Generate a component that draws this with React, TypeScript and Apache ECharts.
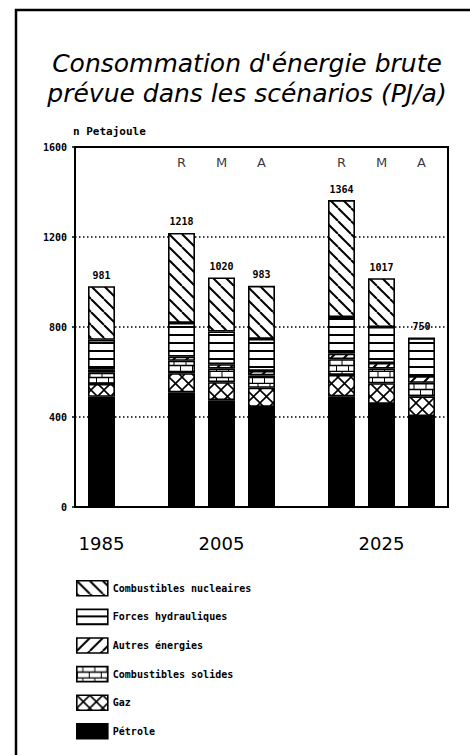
import React, { useEffect, useRef } from "react";
import * as echarts from "echarts";

// ---- data ----
const slots = ["1985", "gap1", "2005 R", "2005 M", "2005 A", "gap2", "2025 R", "2025 M", "2025 A"];
const positions = [0, 2, 3, 4, 6, 7, 8];
const scenarioLabels = ["", "R", "M", "A", "R", "M", "A"];
const yearPositions = [0, 3, 7];
const years = ["1985", "2005", "2025"];
const petrole = [490, 510, 475, 445, 492, 458, 404];
const gaz = [57, 85, 80, 85, 95, 92, 88];
const solides = [50, 55, 60, 55, 70, 65, 60];
const autres = [15, 18, 20, 20, 25, 25, 30];
const hydro = [131, 150, 145, 142, 162, 160, 168];
const nucleaire = [238, 400, 240, 236, 520, 217, 0];
const totals = [981, 1218, 1020, 983, 1364, 1017, 750];
const yTicks = [0, 400, 800, 1200, 1600];
const seriesNames = [
  "Pétrole",
  "Gaz",
  "Combustibles solides",
  "Autres énergies",
  "Forces hydrauliques",
  "Combustibles nucleaires",
];
const legendOrder = [
  "Combustibles nucleaires",
  "Forces hydrauliques",
  "Autres énergies",
  "Combustibles solides",
  "Gaz",
  "Pétrole",
];

function makePattern(w: number, h: number, draw: (ctx: CanvasRenderingContext2D) => void) {
  const c = document.createElement("canvas");
  c.width = w;
  c.height = h;
  const ctx = c.getContext("2d")!;
  ctx.fillStyle = "#fff";
  ctx.fillRect(0, 0, w, h);
  ctx.strokeStyle = "#000";
  draw(ctx);
  return { image: c, repeat: "repeat", imageWidth: w, imageHeight: h } as any;
}

function toSlots(vals: number[]) {
  const out: any[] = slots.map(() => "-");
  positions.forEach((p, i) => (out[p] = vals[i]));
  return out;
}

export default function App() {
  const ref = useRef<HTMLDivElement>(null);
  useEffect(() => {
    if (!ref.current) return;
    const chart = echarts.init(ref.current, null, { renderer: "svg" });

    const T = 13;
    const back = makePattern(T, T, (ctx) => {
      ctx.lineWidth = 2;
      for (const x0 of [-T, 0, T]) {
        ctx.beginPath();
        ctx.moveTo(x0, 0);
        ctx.lineTo(x0 + T, T);
        ctx.stroke();
      }
    });
    const fwd = makePattern(T, T, (ctx) => {
      ctx.lineWidth = 2;
      for (const x0 of [-T, 0, T]) {
        ctx.beginPath();
        ctx.moveTo(x0 + T, 0);
        ctx.lineTo(x0, T);
        ctx.stroke();
      }
    });
    const cross = makePattern(T, T, (ctx) => {
      ctx.lineWidth = 1.6;
      for (const x0 of [-T, 0, T]) {
        ctx.beginPath();
        ctx.moveTo(x0, 0);
        ctx.lineTo(x0 + T, T);
        ctx.stroke();
        ctx.beginPath();
        ctx.moveTo(x0 + T, 0);
        ctx.lineTo(x0, T);
        ctx.stroke();
      }
    });
    const horiz = makePattern(8, 8, (ctx) => {
      ctx.lineWidth = 2;
      ctx.beginPath();
      ctx.moveTo(0, 7);
      ctx.lineTo(8, 7);
      ctx.stroke();
    });
    const brick = makePattern(12, 12, (ctx) => {
      ctx.lineWidth = 1.6;
      ctx.beginPath();
      ctx.moveTo(0, 5.5);
      ctx.lineTo(12, 5.5);
      ctx.moveTo(0, 11.5);
      ctx.lineTo(12, 11.5);
      ctx.stroke();
      ctx.lineWidth = 1;
      ctx.beginPath();
      ctx.moveTo(6, 0);
      ctx.lineTo(6, 5.5);
      ctx.moveTo(0.5, 6);
      ctx.lineTo(0.5, 11.5);
      ctx.stroke();
    });

    const fills = ["#000", cross, brick, fwd, horiz, back];
    const valuesList = [petrole, gaz, solides, autres, hydro, nucleaire];

    const monoBold = {
      fontFamily: "DejaVu Sans Mono",
      fontWeight: "bold" as const,
      fontSize: 10,
      color: "#000",
    };

    const barSeries = seriesNames.map((name, si) => ({
      name,
      type: "bar",
      stack: "total",
      xAxisIndex: 1,
      yAxisIndex: 1,
      barWidth: 27,
      data: toSlots(valuesList[si]),
      itemStyle: { color: fills[si], borderColor: "#000", borderWidth: 1.6 },
      label:
        si === seriesNames.length - 1
          ? {
              show: true,
              position: "top",
              distance: 6,
              formatter: (pr: any) => {
                const k = positions.indexOf(pr.dataIndex);
                return k >= 0 ? String(totals[k]) : "";
              },
              ...monoBold,
            }
          : { show: false },
      silent: true,
    }));

    const scenarioSeries = {
      name: "scenarios",
      type: "scatter",
      xAxisIndex: 1,
      yAxisIndex: 1,
      symbolSize: 1,
      itemStyle: { color: "transparent" },
      silent: true,
      clip: false,
      data: positions
        .map((p, i) => ({ value: [p, 1530], name: scenarioLabels[i] }))
        .filter((d) => d.name !== ""),
      label: {
        show: true,
        position: "inside",
        formatter: (pr: any) => pr.name,
        fontFamily: "DejaVu Sans",
        fontSize: 13,
        color: "#000",
      },
    };

    chart.setOption({
      animation: false,
      backgroundColor: "#fff",
      title: {
        text: "Consommation d'énergie brute\nprévue dans les scénarios (PJ/a)",
        left: 247,
        textAlign: "center",
        top: 48,
        padding: 0,
        textStyle: {
          fontFamily: "DejaVu Sans",
          fontStyle: "italic",
          fontWeight: "normal",
          fontSize: 25,
          lineHeight: 30,
          color: "#000",
        },
      },
      graphic: [
        {
          type: "polyline",
          shape: { points: [[16, 760], [16, 10], [475, 10]] },
          style: { stroke: "#000", lineWidth: 2.5, fill: "none" },
          silent: true,
        },
      ],
      grid: [
        {
          left: 75,
          right: 22,
          top: 147,
          bottom: 248,
          show: true,
          borderColor: "#000",
          borderWidth: 2,
          backgroundColor: "transparent",
        },
        { left: 81.5, right: 28.5, top: 147, bottom: 248 },
      ],
      legend: {
        orient: "vertical",
        left: 76,
        top: 580,
        padding: 0,
        itemWidth: 31,
        itemHeight: 15,
        itemGap: 12,
        icon: "rect",
        data: legendOrder,
        selectedMode: false,
        textStyle: { ...monoBold, fontSize: 10 },
        itemStyle: { borderColor: "#000", borderWidth: 1.6 },
      },
      xAxis: [
        {
          gridIndex: 0,
          type: "value",
          min: 0,
          max: 1,
          show: true,
          splitLine: { show: false },
          axisTick: { show: false },
          axisLabel: { show: false },
          axisLine: { onZero: false, lineStyle: { color: "#000", width: 2 } },
        },
        {
          gridIndex: 1,
          type: "category",
          data: slots,
          axisLine: { show: false },
          axisTick: { show: false },
          axisLabel: {
            interval: 0,
            formatter: (_v: string, idx: number) => {
              const k = yearPositions.indexOf(idx);
              return k >= 0 ? years[k] : "";
            },
            margin: 27,
            fontFamily: "DejaVu Sans",
            fontSize: 18,
            color: "#000",
          },
        },
      ],
      yAxis: [
        {
          gridIndex: 0,
          type: "value",
          min: yTicks[0],
          max: yTicks[yTicks.length - 1],
          interval: 400,
          name: "n Petajoule",
          nameLocation: "end",
          nameGap: 10,
          nameTextStyle: { ...monoBold, fontSize: 11, align: "left", padding: [0, 0, 0, -2] },
          axisLine: { show: true, onZero: false, lineStyle: { color: "#000", width: 2 } },
          axisTick: { show: true, length: 3, lineStyle: { color: "#000", width: 1.5 } },
          axisLabel: { ...monoBold, margin: 8, formatter: (v: number) => String(v) },
          splitLine: {
            show: true,
            lineStyle: { color: "#000", type: [1.5, 2.5], width: 1.5 },
          },
        },
        {
          gridIndex: 1,
          type: "value",
          min: yTicks[0],
          max: yTicks[yTicks.length - 1],
          interval: 400,
          show: false,
          splitLine: { show: false },
        },
      ],
      series: [...barSeries, scenarioSeries],
    });

    return () => chart.dispose();
  }, []);

  return (
    <div
      ref={ref}
      style={{ position: "fixed", left: 0, top: 0, width: 470, height: 755 }}
    />
  );
}
